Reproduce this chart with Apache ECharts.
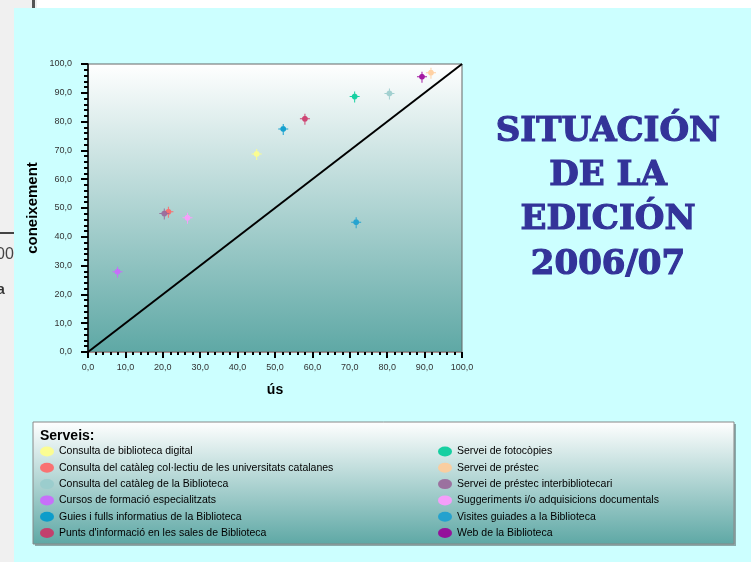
<!DOCTYPE html>
<html><head><meta charset="utf-8">
<script src="https://cdn.jsdelivr.net/npm/echarts@6/dist/echarts.min.js"></script>
<style>html,body{margin:0;padding:0;background:#f0f0f0}#c{width:751px;height:562px}</style>
</head><body><div id="c"></div>
<script>
const services = [
  'Consulta de biblioteca digital',
  "Consulta del catàleg col·lectiu de les universitats catalanes",
  'Consulta del catàleg de la Biblioteca',
  'Cursos de formació especialitzats',
  'Guies i fulls informatius de la Biblioteca',
  "Punts d'informació en les sales de Biblioteca",
  'Servei de fotocòpies',
  'Servei de préstec',
  'Servei de préstec interbibliotecari',
  'Suggeriments i/o adquisicions documentals',
  'Visites guiades a la Biblioteca',
  'Web de la Biblioteca'
];
const usValues = [45.1, 21.5, 80.6, 7.9, 52.2, 58.0, 71.3, 91.7, 20.4, 26.6, 71.7, 89.3];
const coneixementValues = [68.6, 48.5, 89.6, 27.7, 77.3, 80.8, 88.5, 96.8, 47.9, 46.4, 44.9, 95.4];
const colors = ['#ffff88','#ff6666','#99cccc','#cc66ff','#0099cc','#cc3366','#00cc99','#ffcc99','#996699','#ff99ff','#1a9fd0','#990099'];
const diagonal = [[0,0],[100,100]];
const titleLines = ['SITUACIÓN','DE LA','EDICIÓN','2006/07'];

const chart = echarts.init(document.getElementById('c'), null, {renderer:'canvas'});
const fmt = v => v.toFixed(1).replace('.', ',');
const markerPath = 'path://M9,0H11V9H20V11H11V22H9V11H0V9H9Z ' +
  'M16,10L15.2,13L13,15.2L10,16L7,15.2L4.8,13L4,10L4.8,7L7,4.8L10,4L13,4.8L15.2,7Z';
const ellipseIcon = 'path://M0,10A14,10 0 1,0 28,10A14,10 0 1,0 0,10Z';

const series = services.map((name, i) => ({
  name, type: 'scatter', symbol: markerPath, symbolSize: [10, 11],
  data: [[usValues[i], coneixementValues[i]]],
  itemStyle: {color: colors[i], opacity: 0.9}, z: 5
}));
series.push({
  type: 'line', data: diagonal, symbol: 'none', silent: true,
  lineStyle: {color: '#000', width: 2}, z: 3
});

const legendCommon = {
  orient: 'vertical', icon: ellipseIcon, itemWidth: 14, itemHeight: 11, itemGap: 5.3, padding: 0,
  textStyle: {fontFamily: 'Liberation Sans', fontSize: 10.5, color: '#000', lineHeight: 11},
  itemStyle: {borderWidth: 0}, selectedMode: false
};

const grad = () => new echarts.graphic.LinearGradient(0,0,0,1,[{offset:0,color:'#ffffff'},{offset:1,color:'#5ea8a5'}]);

const graphics = [
  {type:'rect', shape:{x:37,y:0,width:714,height:8}, style:{fill:'#ffffff'}, z:-12},
  {type:'rect', shape:{x:32,y:0,width:3,height:8}, style:{fill:'#555'}, z:-11},
  {type:'rect', shape:{x:0,y:232,width:14,height:2}, style:{fill:'#444'}, z:-11},
  {type:'text', style:{x:-4,y:255,text:'00',font:'16px Liberation Sans',fill:'#444',verticalAlign:'middle'}, z:-11},
  {type:'text', style:{x:-3,y:290,text:'a',font:'bold 14px Liberation Sans',fill:'#333',verticalAlign:'middle'}, z:-11},
  {type:'rect', shape:{x:14,y:8,width:737,height:554}, style:{fill:'#ccffff'}, z:-10},
  {type:'rect', shape:{x:35,y:424,width:701,height:122}, style:{fill:'#8aa'}, z:-9},
  {type:'rect', shape:{x:33,y:422,width:701,height:122}, style:{fill:grad(), stroke:'#888', lineWidth:1}, z:-8},
  {type:'text', style:{x:40,y:436,text:'Serveis:',font:'bold 14px Liberation Sans',fill:'#000',verticalAlign:'middle'}, z:1}
];
titleLines.forEach((t, i) => graphics.push({
  type:'text', style:{x:608, y:132 + i*44.3, text:t, font:'bold 34px DejaVu Serif', fill:'#333399',
    stroke:'#333399', lineWidth:1.2, align:'center', verticalAlign:'middle'}, z:1
}));

chart.setOption({
  backgroundColor: '#f0f0f0',
  animation: false,
  graphic: graphics,
  grid: {left: 88, top: 64, width: 374, height: 288, show: true, borderColor: '#666', borderWidth: 1,
         backgroundColor: grad()},
  xAxis: {
    type: 'value', min: 0, max: 100, interval: 10,
    name: 'ús', nameLocation: 'middle', nameGap: 31,
    nameTextStyle: {fontFamily:'Liberation Sans', fontWeight:'bold', fontSize:14, color:'#000'},
    axisLine: {show: true, lineStyle: {color: '#b09090', width: 1}},
    axisTick: {show: true, length: 6, lineStyle: {color:'#000', width: 2}},
    minorTick: {show: true, splitNumber: 5, length: 3, lineStyle: {color:'#000', width: 2}},
    splitLine: {show: false},
    axisLabel: {formatter: fmt, fontFamily:'Liberation Sans', fontSize: 9, color:'#333', margin: 11}
  },
  yAxis: {
    type: 'value', min: 0, max: 100, interval: 10,
    name: 'coneixement', nameLocation: 'middle', nameGap: 48, nameRotate: 90,
    nameTextStyle: {fontFamily:'Liberation Sans', fontWeight:'bold', fontSize:15, color:'#000'},
    axisLine: {show: true, lineStyle: {color: '#000', width: 1.5}},
    axisTick: {show: true, length: 7, lineStyle: {color:'#000', width: 2}},
    minorTick: {show: true, splitNumber: 5, length: 4, lineStyle: {color:'#000', width: 2}},
    splitLine: {show: false},
    axisLabel: {formatter: fmt, fontFamily:'Liberation Sans', fontSize: 9, color:'#333', margin: 16}
  },
  legend: [
    Object.assign({left: 40, top: 446, data: services.slice(0,6)}, legendCommon),
    Object.assign({left: 438, top: 446, data: services.slice(6)}, legendCommon)
  ],
  series
});
</script></body></html>
